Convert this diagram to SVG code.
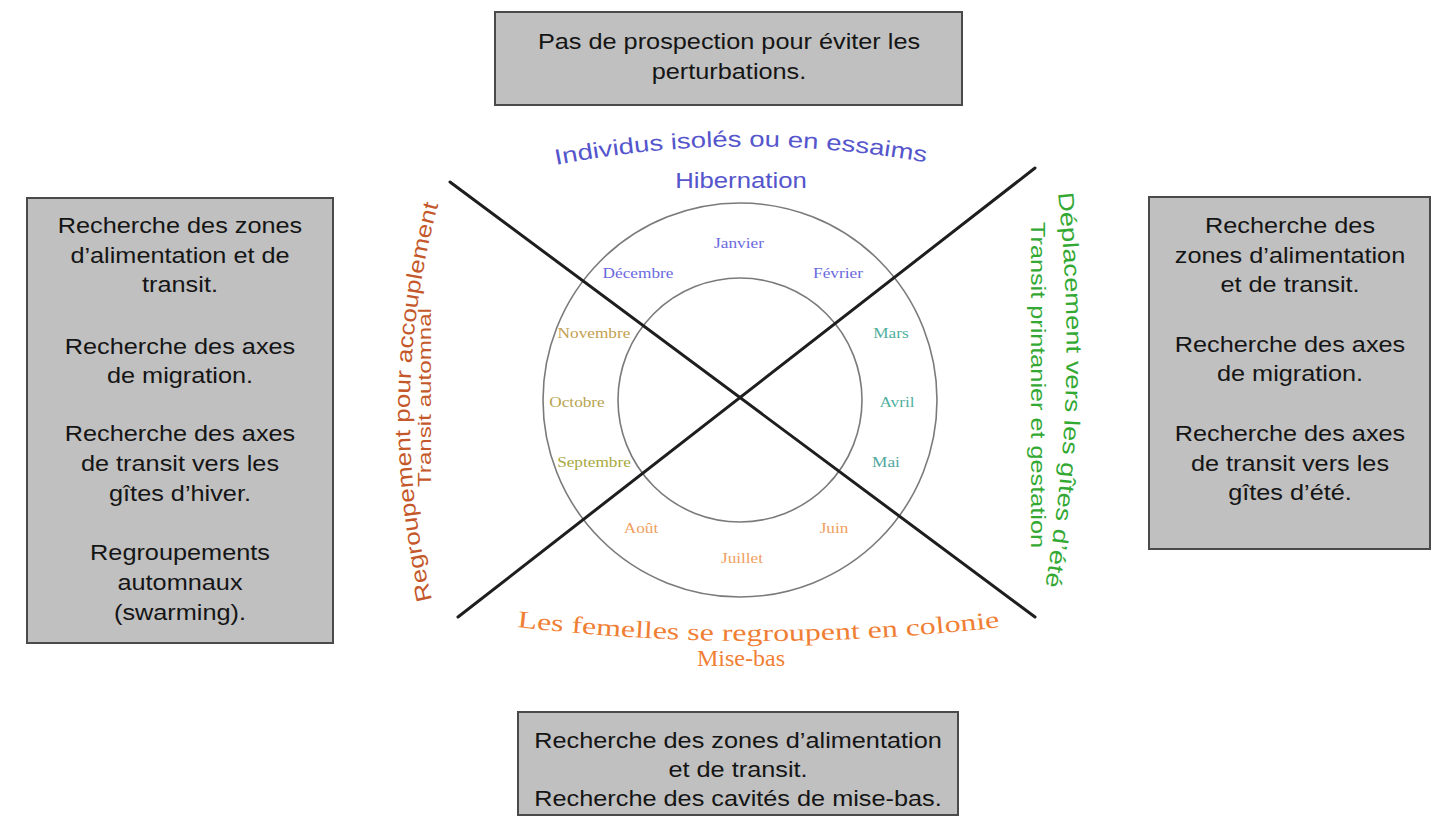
<svg xmlns="http://www.w3.org/2000/svg" width="1446" height="828" viewBox="0 0 1446 828">
<style>
.box{fill:#c0c0c0;stroke:#4a4a4a;stroke-width:2}
.bt{font-family:"Liberation Sans",Arial,sans-serif;font-size:22px;fill:#151515;text-anchor:middle}
.ring{fill:none;stroke:#7a7a7a;stroke-width:1.6}
.cross{stroke:#1e1e1e;stroke-width:3;stroke-linecap:round}
.mo{font-family:"Liberation Serif","Times New Roman",serif;font-size:15px;text-anchor:middle}
.sans{font-family:"Liberation Sans",Arial,sans-serif}
.serif{font-family:"Liberation Serif","Times New Roman",serif}
</style>
<defs>
<path id="pTop" d="M 556 165 Q 742 129 930 163"/>
<path id="pLeft" d="M 432 600 Q 384 400 440 198"/>
<path id="pRight" d="M 1058 193 Q 1080 390 1045 588"/>
<path id="pBottom" d="M 517 627 Q 760 655 1002 627"/>
</defs>
<rect width="1446" height="828" fill="#ffffff"/>

<g id="box-top">
<rect class="box" x="495" y="12" width="467" height="93"/>
<text class="bt" transform="translate(729,49) scale(1.15,1)">Pas de prospection pour éviter les</text>
<text class="bt" transform="translate(729,79) scale(1.15,1)">perturbations.</text>
</g>

<g id="box-left">
<rect class="box" x="27" y="198" width="306" height="445"/>
<text class="bt" transform="translate(180,233) scale(1.15,1)">Recherche des zones</text>
<text class="bt" transform="translate(180,263) scale(1.15,1)">d’alimentation et de</text>
<text class="bt" transform="translate(180,292) scale(1.15,1)">transit.</text>
<text class="bt" transform="translate(180,354) scale(1.15,1)">Recherche des axes</text>
<text class="bt" transform="translate(180,383) scale(1.15,1)">de migration.</text>
<text class="bt" transform="translate(180,441) scale(1.15,1)">Recherche des axes</text>
<text class="bt" transform="translate(180,471) scale(1.15,1)">de transit vers les</text>
<text class="bt" transform="translate(180,501) scale(1.15,1)">gîtes d’hiver.</text>
<text class="bt" transform="translate(180,560) scale(1.15,1)">Regroupements</text>
<text class="bt" transform="translate(180,590) scale(1.15,1)">automnaux</text>
<text class="bt" transform="translate(180,620) scale(1.15,1)">(swarming).</text>
</g>

<g id="box-right">
<rect class="box" x="1149" y="197" width="281" height="352"/>
<text class="bt" transform="translate(1290,233) scale(1.15,1)">Recherche des</text>
<text class="bt" transform="translate(1290,263) scale(1.15,1)">zones d’alimentation</text>
<text class="bt" transform="translate(1290,292) scale(1.15,1)">et de transit.</text>
<text class="bt" transform="translate(1290,352) scale(1.15,1)">Recherche des axes</text>
<text class="bt" transform="translate(1290,381) scale(1.15,1)">de migration.</text>
<text class="bt" transform="translate(1290,441) scale(1.15,1)">Recherche des axes</text>
<text class="bt" transform="translate(1290,471) scale(1.15,1)">de transit vers les</text>
<text class="bt" transform="translate(1290,500) scale(1.15,1)">gîtes d’été.</text>
</g>

<g id="box-bottom">
<rect class="box" x="518" y="712" width="440" height="103"/>
<text class="bt" transform="translate(738,748) scale(1.15,1)">Recherche des zones d’alimentation</text>
<text class="bt" transform="translate(738,777) scale(1.15,1)">et de transit.</text>
<text class="bt" transform="translate(738,806) scale(1.15,1)">Recherche des cavités de mise-bas.</text>
</g>

<g id="wheel">
<circle class="ring" cx="740" cy="400" r="197"/>
<circle class="ring" cx="740" cy="400" r="122"/>
</g>

<g id="months">
<text class="mo" fill="#6a6ae0" transform="translate(739,248) scale(1.15,1)">Janvier</text>
<text class="mo" fill="#6a6ae0" transform="translate(638,278) scale(1.15,1)">Décembre</text>
<text class="mo" fill="#6a6ae0" transform="translate(838,278) scale(1.15,1)">Février</text>
<text class="mo" fill="#c4a050" transform="translate(594,338) scale(1.15,1)">Novembre</text>
<text class="mo" fill="#50b0a0" transform="translate(891,338) scale(1.15,1)">Mars</text>
<text class="mo" fill="#b8a450" transform="translate(577,407) scale(1.15,1)">Octobre</text>
<text class="mo" fill="#50b0a0" transform="translate(897,407) scale(1.15,1)">Avril</text>
<text class="mo" fill="#a8a840" transform="translate(594,467) scale(1.15,1)">Septembre</text>
<text class="mo" fill="#50a8a0" transform="translate(886,467) scale(1.15,1)">Mai</text>
<text class="mo" fill="#f0a060" transform="translate(641,533) scale(1.15,1)">Août</text>
<text class="mo" fill="#f0a060" transform="translate(834,533) scale(1.15,1)">Juin</text>
<text class="mo" fill="#f0a060" transform="translate(742,563) scale(1.15,1)">Juillet</text>
</g>

<g id="connectors">
<line class="cross" x1="450" y1="182" x2="1035" y2="617"/>
<line class="cross" x1="1035" y1="168" x2="458" y2="617"/>
</g>

<g id="label-winter">
<text class="sans" font-size="22" fill="#5555cc"><textPath href="#pTop" textLength="372" lengthAdjust="spacingAndGlyphs">Individus isolés ou en essaims</textPath></text>
<text class="sans" font-size="22" fill="#5555cc" text-anchor="middle" transform="translate(741,188) scale(1.17,1)">Hibernation</text>
</g>

<g id="label-autumn">
<text class="sans" font-size="22" fill="#c4582a"><textPath href="#pLeft" textLength="400" lengthAdjust="spacingAndGlyphs">Regroupement pour accouplement</textPath></text>
<text class="sans" font-size="19" fill="#c4582a" transform="translate(431,487) rotate(-90)" textLength="179" lengthAdjust="spacingAndGlyphs">Transit automnal</text>
</g>

<g id="label-spring">
<text class="sans" font-size="22" fill="#33a833"><textPath href="#pRight" textLength="395" lengthAdjust="spacingAndGlyphs">Déplacement vers les gîtes d’été</textPath></text>
<text class="sans" font-size="20" fill="#33a833" transform="translate(1031,222) rotate(90)" textLength="326" lengthAdjust="spacingAndGlyphs">Transit printanier et gestation</text>
</g>

<g id="label-summer">
<text class="serif" font-size="24" fill="#f07f35"><textPath href="#pBottom" textLength="484" lengthAdjust="spacingAndGlyphs">Les femelles se regroupent en colonie</textPath></text>
<text class="serif" font-size="24" fill="#f07f35" text-anchor="middle" transform="translate(741,666)">Mise-bas</text>
</g>
</svg>
